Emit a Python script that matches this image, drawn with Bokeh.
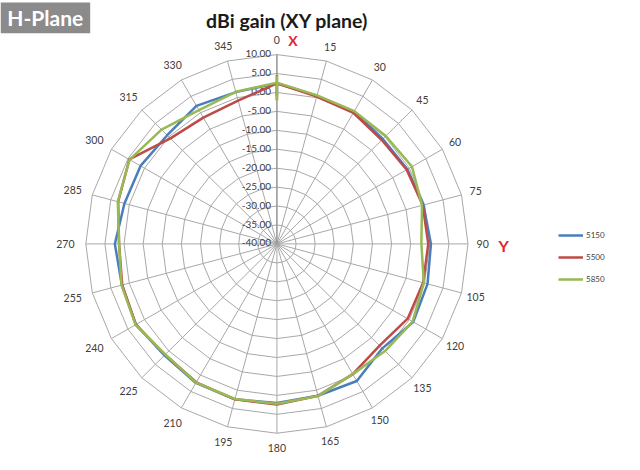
import numpy as np
from bokeh.plotting import figure
from bokeh.models import Legend, LegendItem
from bokeh.core.properties import value
from bokeh.embed import file_html
from bokeh.resources import INLINE

# ---------------- data ----------------
angles = list(range(0, 360, 15))
s5150 = [2.4, 0.5, 0.3, -0.8, -0.6, -0.3, 0.3, 0.8, 1.2, -1.0, 1.8, 1.5,
         2.0, 2.5, 2.4, 1.6, 2.6, 2.0, 2.4, 1.3, 1.2, 0.6, 2.1, 1.5]
s5500 = [2.4, 0.3, 0.0, -1.2, -0.8, -0.5, -0.4, -0.4, -0.5, -2.0, -0.3, 1.5,
         2.4, 2.5, 2.2, 1.4, 2.6, 1.9, 1.3, 3.0, 4.6, -0.6, -1.5, -0.8]
s5850 = [2.6, 0.6, 0.5, 0.3, 0.8, -0.7, -2.2, -0.2, 1.0, 0.0, -0.3, 1.6,
         2.2, 2.4, 2.3, 1.3, 2.7, 2.1, 1.3, 3.1, 4.5, 2.7, 0.8, 1.6]
series_names = ["5150", "5500", "5850"]
series_colors = ["#4a7ebb", "#be4b48", "#98b954"]
r_ticks = [10, 5, 0, -5, -10, -15, -20, -25, -30, -35, -40]
r_min, r_max = -40, 10
title_text = "dBi gain (XY plane)"
badge_text = "H-Plane"

# ---------------- geometry ----------------
W, H = 624, 454           # figure size (fits the 640x470 window with 8px margin)
RW, RH = 640, 470         # reference canvas the layout is laid out in
CXR, CYR = 283.5, 252.0   # centre in reference-pixel coords
R = 196.0                 # outer ring radius in reference px


def dx(xr):  # reference px -> data x
    return xr - CXR


def dy(yr):  # reference px -> data y
    return CYR - yr


def rad(v):
    return (np.asarray(v, dtype=float) - r_min) / (r_max - r_min) * R


theta = np.radians(angles)
sn, cs = np.sin(theta), np.cos(theta)

p = figure(width=W, height=H,
           x_range=(dx(0), dx(RW)), y_range=(dy(RH), dy(0)),
           x_axis_type=None, y_axis_type=None,
           output_backend="svg", toolbar_location=None,
           min_border=0, min_border_left=0, min_border_right=0,
           min_border_top=0, min_border_bottom=0)
p.outline_line_color = None
p.background_fill_color = "white"
p.border_fill_color = "white"
p.grid.visible = False

GRID = "#a8a8a8"

# rings (24-gon like Excel radar)
ring_xs, ring_ys = [], []
for v in r_ticks:
    rr = rad(v)
    ring_xs.append(list(np.append(rr * sn, rr * sn[0])))
    ring_ys.append(list(np.append(rr * cs, rr * cs[0])))
p.multi_line(ring_xs, ring_ys, line_color=GRID, line_width=1)

# spokes
p.segment(x0=0, y0=0, x1=list(R * sn), y1=list(R * cs),
          line_color=GRID, line_width=1)
p.segment(x0=[0], y0=[0], x1=[0], y1=[R], line_color="#8a8a8a", line_width=1)

# angle labels
lab_r = 211 + 6 * np.clip(-sn, 0, None)
p.text(x=list(lab_r * sn), y=list(lab_r * cs), text=[str(a) for a in angles],
       text_align="center", text_baseline="middle",
       text_font=value("Lato"), text_font_size="10.5px", text_color="#404040")

# radial value labels
rt = rad(r_ticks)
p.text(x=[-6] * len(r_ticks), y=list(rt + 1), text=["%.2f" % v for v in r_ticks],
       text_align="right", text_baseline="middle",
       text_font=value("Lato"), text_font_size="10px", text_color="#404040")

# series
renderers = []
for vals, col in zip([s5150, s5500, s5850], series_colors):
    rr = rad(vals)
    xs = np.append(rr * sn, rr * sn[0])
    ys = np.append(rr * cs, rr * cs[0])
    renderers.append(p.line(list(xs), list(ys), line_color=col, line_width=2.5))

# legend
legend = Legend(items=[LegendItem(label=n, renderers=[r_]) for n, r_ in zip(series_names, renderers)],
                location=(558, 166), orientation="vertical",
                border_line_color=None, background_fill_alpha=0,
                label_text_font="Lato", label_text_font_size="8px",
                label_text_color="#404040",
                glyph_width=25, glyph_height=18, label_height=18,
                spacing=4, padding=0, margin=0, label_standoff=3)
p.add_layout(legend)

# title
p.text(x=[dx(294)], y=[dy(21)], text=[title_text], text_align="center",
       text_baseline="middle", text_font=value("Lato"), text_font_style="bold",
       text_font_size="19.5px", text_color="#1a1a1a")

# axis markers X and Y
p.text(x=[dx(300)], y=[dy(41)], text=["X"], text_align="center",
       text_baseline="middle", text_font=value("Lato"), text_font_style="bold",
       text_font_size="14px", text_color="#e0262c")
p.text(x=[dx(516)], y=[dy(254)], text=["Y"], text_align="center",
       text_baseline="middle", text_font=value("Lato"), text_font_style="bold",
       text_font_size="16px", text_color="#e0262c")

# H-Plane badge
p.quad(left=[dx(0)], right=[dx(92)], top=[dy(2)], bottom=[dy(34)],
       fill_color="#8b8b8b", line_color=None)
p.text(x=[dx(7)], y=[dy(18)], text=[badge_text], text_align="left",
       text_baseline="middle", text_font=value("Lato"), text_font_style="bold",
       text_font_size="21px", text_color="white")

open("out.html", "w").write(file_html(p, INLINE))
